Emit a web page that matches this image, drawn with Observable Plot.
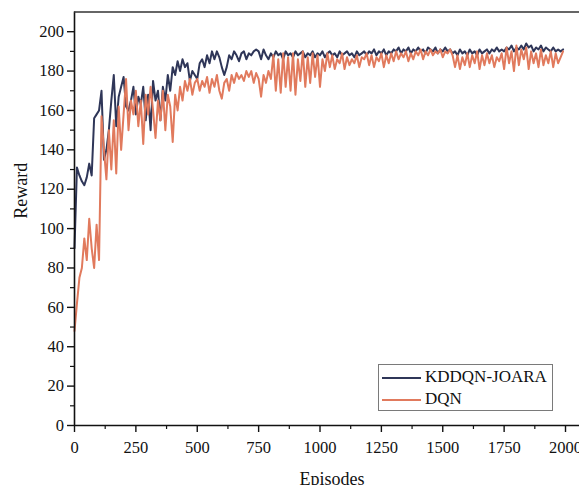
<!DOCTYPE html>
<html>
<head>
<meta charset="utf-8">
<script src="https://cdn.jsdelivr.net/npm/d3@7"></script>
<script src="https://cdn.jsdelivr.net/npm/@observablehq/plot@0.6"></script>
<style>
  html, body { margin: 0; padding: 0; background: #fff; }
  #wrap { position: relative; width: 579px; height: 485px; overflow: hidden; }
  #legend { position: absolute; left: 378px; top: 364px; width: 175px; height: 47px; box-sizing: border-box;
            border: 1px solid #7a7a7a; background: #fff; font-family: "Liberation Serif", serif; font-size: 17px; color: #111; }
  .sw { position: absolute; left: 3px; width: 39px; height: 0; border-top: 2px solid; }
  .lb { position: absolute; left: 46px; line-height: 18px; }
</style>
</head>
<body>
<div id="wrap"></div>
<script>
// ---- data ----
const episodes = d3.range(0, 2000, 10);
const seriesNames = ["KDDQN-JOARA", "DQN"];
const seriesColors = ["#2f3658", "#e17a5d"];
const kddqn = [
  90,131,127,124,122,126,133,127,156,158, 160,170,135,140,150,165,178,152,167,172,
  177,162,160,165,172,158,167,163,172,155, 168,150,175,165,170,155,172,165,178,170,
  182,178,185,180,186,182,184,175,180,178, 176,184,186,182,188,184,190,186,190,187,
  182,178,182,188,186,190,188,185,189,190, 186,189,188,190,191,190,186,191,188,186,
  189,187,190,188,189,186,190,188,189,187, 190,188,189,190,187,189,188,190,187,189,
  188,190,187,189,190,188,189,187,190,188, 189,190,188,189,187,190,188,189,190,188,
  190,189,191,188,190,189,191,188,190,189, 191,190,192,189,191,190,192,189,191,190,
  192,190,191,189,192,191,190,192,189,191, 190,192,190,191,189,190,188,191,189,190,
  188,191,189,190,188,191,189,190,191,189, 191,190,192,190,191,190,192,191,193,190,
  192,191,193,191,194,192,193,190,192,191, 193,190,192,191,190,192,190,191,190,191
];
const dqn = [
  48,62,75,80,95,84,105,90,80,102, 84,157,140,125,150,130,155,128,162,140,
  158,176,150,165,158,170,152,165,143,168, 158,172,160,146,165,155,170,150,168,162,
  144,168,160,172,165,175,170,176,168,174, 176,170,175,172,177,169,176,172,178,170,
  166,174,176,170,178,174,179,176,178,175, 180,177,180,174,179,176,167,178,174,180,
  176,188,170,186,169,189,172,187,170,189, 168,186,175,190,172,187,174,189,177,188,
  172,186,180,189,182,188,181,186,184,189, 181,187,183,186,184,188,182,187,186,189,
  183,188,182,187,185,189,182,188,184,189, 185,190,186,189,187,190,185,189,186,190,
  188,191,186,190,188,191,188,190,189,191, 187,190,189,191,188,182,188,181,187,183,
  189,182,188,184,190,181,188,183,189,184, 188,182,187,185,189,181,192,184,190,180,
  193,183,191,186,192,181,190,184,189,182, 191,183,188,184,190,182,189,184,187,190
];
const xTicks = [0, 250, 500, 750, 1000, 1250, 1500, 1750, 2000];
const xMinor = [125, 375, 625, 875, 1125, 1375, 1625, 1875];
const yTicks = [0, 20, 40, 60, 80, 100, 120, 140, 160, 180, 200];
const yMinor = [10, 30, 50, 70, 90, 110, 130, 150, 170, 190];

const rows = [];
episodes.forEach((e, i) => {
  rows.push({episode: e, reward: kddqn[i], series: seriesNames[0]});
});
episodes.forEach((e, i) => {
  rows.push({episode: e, reward: dqn[i], series: seriesNames[1]});
});

const font = "Liberation Serif, Times New Roman, serif";
const fmt = d => String(d);
const chart = Plot.plot({
  width: 579,
  height: 485,
  marginLeft: 74,
  marginRight: 0,
  marginTop: 11.5,
  marginBottom: 60,
  x: {domain: [0, 2057]},
  y: {domain: [0, 210]},
  color: {domain: seriesNames, range: seriesColors},
  style: {fontFamily: font, fontSize: "16.5px", color: "#111", background: "#fff"},
  marks: [
    Plot.lineY(rows.filter(d => d.series === seriesNames[0]), {x: "episode", y: "reward", stroke: "series", strokeWidth: 2}),
    Plot.lineY(rows.filter(d => d.series === seriesNames[1]), {x: "episode", y: "reward", stroke: "series", strokeWidth: 2}),
    Plot.axisX({ticks: xTicks, tickFormat: fmt, tickSize: 7, tickPadding: 9, label: null, stroke: "#111", strokeWidth: 1.4, fill: "#111", fontSize: 16.5, fontFamily: font}),
    Plot.axisX({ticks: xMinor, tickSize: 4, text: null, label: null, stroke: "#111", strokeWidth: 1.2}),
    Plot.axisY({ticks: yTicks, tickFormat: fmt, tickSize: 7, tickPadding: 3.5, label: null, stroke: "#111", strokeWidth: 1.4, fill: "#111", fontSize: 16.5, fontFamily: font}),
    Plot.axisY({ticks: yMinor, tickSize: 4, text: null, label: null, stroke: "#111", strokeWidth: 1.2}),
    Plot.ruleX([0], {stroke: "#111", strokeWidth: 1.6}),
    Plot.ruleY([0], {stroke: "#111", strokeWidth: 1.6}),
    Plot.ruleY([210], {stroke: "#333", strokeWidth: 1.6}),
    Plot.text(["Reward"], {frameAnchor: "left", rotate: -90, dx: -53, lineAnchor: "middle", fontSize: 18, fill: "#111", fontFamily: font}),
    Plot.text(["Episodes"], {frameAnchor: "bottom", dx: 5, dy: 53.4, lineAnchor: "middle", fontSize: 18, fill: "#111", fontFamily: font})
  ]
});
const wrap = document.getElementById("wrap");
wrap.appendChild(chart);

// legend overlay (inside plot area)
const legend = document.createElement("div");
legend.id = "legend";
seriesNames.forEach((name, i) => {
  const top = i === 0 ? 12 : 34;
  const sw = document.createElement("div");
  sw.className = "sw";
  sw.style.top = top + "px";
  sw.style.borderTopColor = seriesColors[i];
  const lb = document.createElement("div");
  lb.className = "lb";
  lb.style.top = (top - 9) + "px";
  lb.textContent = name;
  legend.appendChild(sw);
  legend.appendChild(lb);
});
wrap.appendChild(legend);
</script>
</body>
</html>
